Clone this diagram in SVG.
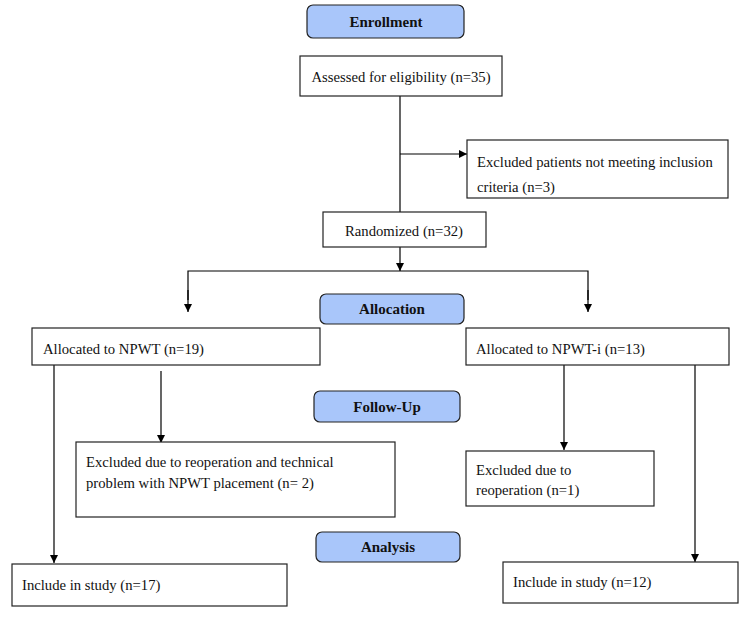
<svg xmlns="http://www.w3.org/2000/svg" width="750" height="622" viewBox="0 0 750 622">
<defs>
<marker id="arr" viewBox="0 0 10 10" refX="10" refY="5" markerWidth="8" markerHeight="8" markerUnits="userSpaceOnUse" orient="auto">
<path d="M0,0 L10,5 L0,10 z" fill="#000"/>
</marker>
<style>
.box{fill:#fff;stroke:#222;stroke-width:1.2}
.hdr{fill:#a9c6fa;stroke:#222;stroke-width:1.2}
.t{font-family:"Liberation Serif","Times New Roman",serif;font-size:14.7px;fill:#111}
.h{font-family:"Liberation Serif","Times New Roman",serif;font-size:15px;font-weight:bold;fill:#111;text-anchor:middle}
.c{text-anchor:middle}
.ln{stroke:#000;stroke-width:1.2;fill:none}
</style>
</defs>
<rect width="750" height="622" fill="#fff"/>
<g id="connectors">
<line class="ln" x1="400" y1="96" x2="400" y2="212"/>
<line class="ln" x1="400" y1="154" x2="467" y2="154" marker-end="url(#arr)"/>
<line class="ln" x1="400" y1="247" x2="400" y2="271" marker-end="url(#arr)"/>
<polyline class="ln" points="188,300 188,271 588,271 588,300"/>
<line class="ln" x1="188" y1="290" x2="188" y2="312" marker-end="url(#arr)"/>
<line class="ln" x1="588" y1="290" x2="588" y2="312" marker-end="url(#arr)"/>
<line class="ln" x1="54" y1="365" x2="54" y2="563" marker-end="url(#arr)"/>
<line class="ln" x1="161" y1="371" x2="161" y2="443" marker-end="url(#arr)"/>
<line class="ln" x1="564" y1="365" x2="564" y2="450" marker-end="url(#arr)"/>
<line class="ln" x1="695" y1="365" x2="695" y2="562" marker-end="url(#arr)"/>
</g>
<g id="enrollment"><rect class="hdr" x="307" y="5" width="157" height="33" rx="6"/><text class="h" x="386" y="27">Enrollment</text></g>
<g id="assessed"><rect class="box" x="300" y="56" width="202" height="40"/><text class="t c" x="401" y="82">Assessed for eligibility (n=35)</text></g>
<g id="excluded1"><rect class="box" x="467" y="140" width="261" height="58"/><text class="t" x="477" y="167">Excluded patients not meeting inclusion</text><text class="t" x="477" y="192">criteria (n=3)</text></g>
<g id="randomized"><rect class="box" x="323" y="212" width="163" height="35"/><text class="t c" x="404" y="236">Randomized (n=32)</text></g>
<g id="allocation"><rect class="hdr" x="320" y="294" width="144" height="30" rx="6"/><text class="h" x="392" y="314">Allocation</text></g>
<g id="npwt"><rect class="box" x="32" y="328" width="288" height="37"/><text class="t" x="43" y="354">Allocated to NPWT (n=19)</text></g>
<g id="npwti"><rect class="box" x="466" y="328" width="263" height="37"/><text class="t" x="476" y="354">Allocated to NPWT-i (n=13)</text></g>
<g id="followup"><rect class="hdr" x="314" y="391" width="146" height="31" rx="6"/><text class="h" x="387" y="412">Follow-Up</text></g>
<g id="excluded2"><rect class="box" x="76" y="442" width="319" height="75"/><text class="t" x="86" y="467">Excluded due to reoperation and technical</text><text class="t" x="86" y="488">problem with NPWT placement (n= 2)</text></g>
<g id="excluded3"><rect class="box" x="466" y="451" width="188" height="55"/><text class="t" x="476" y="475">Excluded due to</text><text class="t" x="476" y="495">reoperation (n=1)</text></g>
<g id="analysis"><rect class="hdr" x="316" y="532" width="144" height="30" rx="6"/><text class="h" x="388" y="552">Analysis</text></g>
<g id="include1"><rect class="box" x="12" y="564" width="275" height="42"/><text class="t" x="22" y="590">Include in study (n=17)</text></g>
<g id="include2"><rect class="box" x="503" y="562" width="235" height="41"/><text class="t" x="513" y="587">Include in study (n=12)</text></g>
</svg>
